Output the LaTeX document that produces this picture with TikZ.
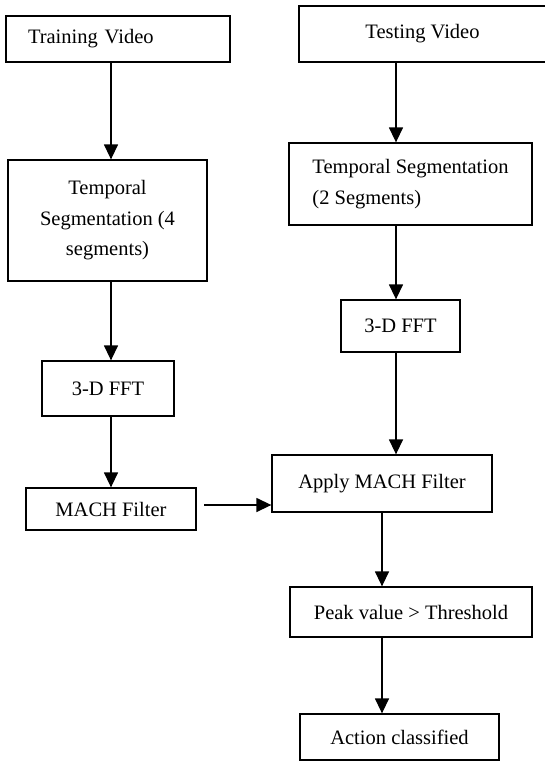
\documentclass[tikz,border=0pt]{standalone}
\usepackage{fontspec}
\setmainfont{Liberation Serif}
\usetikzlibrary{arrows.meta}
\begin{document}
\begin{tikzpicture}[x=1pt,y=-1pt,font=\fontsize{20.5}{30.5}\selectfont,
bloc/.style={draw,line width=1.3pt,inner sep=0pt,align=center},
fleche/.style={-{Triangle[length=15pt,width=14pt]},line width=1.4pt}]
\useasboundingbox (0,0) rectangle (544,761);
\node[bloc,minimum width=224pt,minimum height=46pt,text width=180pt,inner xsep=22pt,align=left] (train) at (118,39) {Training Video};
\node[bloc,minimum width=199pt,minimum height=121pt] (segtrain) at (107.5,220.5) {Temporal\\Segmentation (4\\segments)};
\node[bloc,minimum width=132pt,minimum height=55pt] (ffttrain) at (108,388.5) {3-D FFT};
\node[bloc,minimum width=170pt,minimum height=42pt] (mach) at (111,509) {MACH Filter};
\node[bloc,minimum width=247pt,minimum height=56pt] (test) at (422.5,34) {Testing Video};
\node[bloc,minimum width=243pt,minimum height=82pt,align=left] (segtest) at (410.5,184) {Temporal Segmentation\\(2 Segments)};
\node[bloc,minimum width=119pt,minimum height=52pt] (ffttest) at (400.5,326) {3-D FFT};
\node[bloc,minimum width=220pt,minimum height=57pt] (apply) at (382,483.5) {Apply MACH Filter};
\node[bloc,minimum width=242pt,minimum height=50pt] (peak) at (411,612) {Peak value > Threshold};
\node[bloc,minimum width=199pt,minimum height=46pt] (action) at (399.5,737) {Action classified};
\coordinate (colg) at (111,0);
\coordinate (cold) at (396,0);
\coordinate (colr) at (382,0);
\coordinate (depart) at (204,505);
\draw[fleche] (train.south -| colg) -- (segtrain.north -| colg);
\draw[fleche] (segtrain.south -| colg) -- (ffttrain.north -| colg);
\draw[fleche] (ffttrain.south -| colg) -- (mach.north -| colg);
\draw[fleche] (test.south -| cold) -- (segtest.north -| cold);
\draw[fleche] (segtest.south -| cold) -- (ffttest.north -| cold);
\draw[fleche] (ffttest.south -| cold) -- (apply.north -| cold);
\draw[fleche] (depart) -- (depart -| apply.west);
\draw[fleche] (apply.south -| colr) -- (peak.north -| colr);
\draw[fleche] (peak.south -| colr) -- (action.north -| colr);
\end{tikzpicture}
\end{document}
